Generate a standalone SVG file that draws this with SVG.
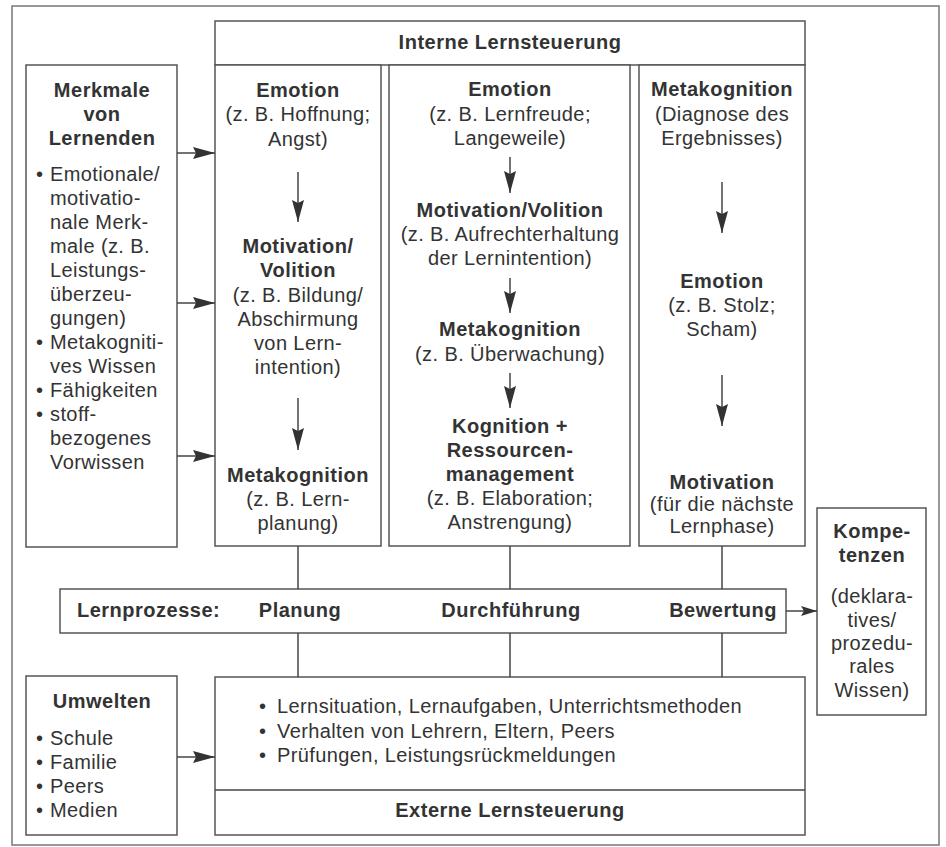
<svg xmlns="http://www.w3.org/2000/svg" width="946" height="847" viewBox="0 0 946 847">
<style>
.t{font-family:"Liberation Sans",Arial,Helvetica,sans-serif;font-size:20px;fill:#333;letter-spacing:0.4px}
.b{font-weight:bold;letter-spacing:0.5px}
.c{text-anchor:middle}
.box{fill:#fff;stroke:#555;stroke-width:1.5}
.ln{stroke:#444;stroke-width:1.5;fill:none}
.ar{stroke:#444;stroke-width:1.5;fill:none;marker-end:url(#ah)}
</style>
<defs>
<marker id="ah" viewBox="0 0 22 12" refX="22" refY="6" markerWidth="22" markerHeight="12" markerUnits="userSpaceOnUse" orient="auto">
<path d="M0,0 L22,6 L0,12 L3,6 Z" fill="#333"/>
</marker>
<marker id="ah2" viewBox="0 0 16 10" refX="16" refY="5" markerWidth="16" markerHeight="10" markerUnits="userSpaceOnUse" orient="auto">
<path d="M0,0 L16,5 L0,10 L3,5 Z" fill="#333"/>
</marker>
</defs>
<rect width="946" height="847" fill="#fff"/>
<rect x="12" y="6" width="927" height="839" fill="none" stroke="#777" stroke-width="1.5"/>

<g id="interne-header">
<rect class="box" x="215" y="21" width="590" height="44"/>
<text class="t b c" x="510" y="49">Interne Lernsteuerung</text>
</g>

<g id="merkmale">
<rect class="box" x="26" y="65" width="151" height="482"/>
<text class="t b c" x="102" y="97">Merkmale</text>
<text class="t b c" x="102" y="121">von</text>
<text class="t b c" x="102" y="145">Lernenden</text>
<text class="t" x="36" y="181">•</text><text class="t" x="50" y="181">Emotionale/</text>
<text class="t" x="50" y="205">motivatio-</text>
<text class="t" x="50" y="229">nale Merk-</text>
<text class="t" x="50" y="253">male (z. B.</text>
<text class="t" x="50" y="277">Leistungs-</text>
<text class="t" x="50" y="301">überzeu-</text>
<text class="t" x="50" y="325">gungen)</text>
<text class="t" x="36" y="349">•</text><text class="t" x="50" y="349">Metakogniti-</text>
<text class="t" x="50" y="373">ves Wissen</text>
<text class="t" x="36" y="397">•</text><text class="t" x="50" y="397">Fähigkeiten</text>
<text class="t" x="36" y="421">•</text><text class="t" x="50" y="421">stoff-</text>
<text class="t" x="50" y="445">bezogenes</text>
<text class="t" x="50" y="469">Vorwissen</text>
</g>

<g id="col-planung">
<rect class="box" x="215" y="65" width="166" height="481"/>
<text class="t b c" x="298" y="97">Emotion</text>
<text class="t c" x="298" y="121">(z. B. Hoffnung;</text>
<text class="t c" x="298" y="146">Angst)</text>
<text class="t b c" x="298" y="253">Motivation/</text>
<text class="t b c" x="298" y="277">Volition</text>
<text class="t c" x="298" y="302">(z. B. Bildung/</text>
<text class="t c" x="298" y="326">Abschirmung</text>
<text class="t c" x="298" y="350">von Lern-</text>
<text class="t c" x="298" y="374">intention)</text>
<text class="t b c" x="298" y="482">Metakognition</text>
<text class="t c" x="298" y="506">(z. B. Lern-</text>
<text class="t c" x="298" y="530">planung)</text>
</g>

<g id="col-durchfuehrung">
<rect class="box" x="389" y="65" width="241" height="481"/>
<text class="t b c" x="510" y="96">Emotion</text>
<text class="t c" x="510" y="121">(z. B. Lernfreude;</text>
<text class="t c" x="510" y="145">Langeweile)</text>
<text class="t b c" x="510" y="217">Motivation/Volition</text>
<text class="t c" x="510" y="241">(z. B. Aufrechterhaltung</text>
<text class="t c" x="510" y="265">der Lernintention)</text>
<text class="t b c" x="510" y="336">Metakognition</text>
<text class="t c" x="510" y="361">(z. B. Überwachung)</text>
<text class="t b c" x="510" y="433">Kognition +</text>
<text class="t b c" x="510" y="457">Ressourcen-</text>
<text class="t b c" x="510" y="481">management</text>
<text class="t c" x="510" y="505">(z. B. Elaboration;</text>
<text class="t c" x="510" y="529">Anstrengung)</text>
</g>

<g id="col-bewertung">
<rect class="box" x="639" y="65" width="166" height="481"/>
<text class="t b c" x="722" y="96">Metakognition</text>
<text class="t c" x="722" y="121">(Diagnose des</text>
<text class="t c" x="722" y="145">Ergebnisses)</text>
<text class="t b c" x="722" y="288">Emotion</text>
<text class="t c" x="722" y="312">(z. B. Stolz;</text>
<text class="t c" x="722" y="336">Scham)</text>
<text class="t b c" x="722" y="489">Motivation</text>
<text class="t c" x="722" y="511">(für die nächste</text>
<text class="t c" x="722" y="533">Lernphase)</text>
</g>

<g id="lernprozesse">
<rect class="box" x="60" y="589" width="726" height="44"/>
<text class="t b" x="77" y="617">Lernprozesse:</text>
<text class="t b c" x="300" y="617">Planung</text>
<text class="t b c" x="511" y="617">Durchführung</text>
<text class="t b" x="777" y="617" text-anchor="end">Bewertung</text>
</g>

<g id="kompetenzen">
<rect class="box" x="817" y="508" width="109" height="207"/>
<text class="t b c" x="872" y="538">Kompe-</text>
<text class="t b c" x="872" y="562">tenzen</text>
<text class="t c" x="872" y="603">(deklara-</text>
<text class="t c" x="872" y="627">tives/</text>
<text class="t c" x="872" y="650">prozedu-</text>
<text class="t c" x="872" y="673">rales</text>
<text class="t c" x="872" y="697">Wissen)</text>
</g>

<g id="umwelten">
<rect class="box" x="26" y="676" width="151" height="159"/>
<text class="t b c" x="102" y="708">Umwelten</text>
<text class="t" x="36" y="745">•</text><text class="t" x="50" y="745">Schule</text>
<text class="t" x="36" y="769">•</text><text class="t" x="50" y="769">Familie</text>
<text class="t" x="36" y="793">•</text><text class="t" x="50" y="793">Peers</text>
<text class="t" x="36" y="817">•</text><text class="t" x="50" y="817">Medien</text>
</g>

<g id="externe">
<rect class="box" x="215" y="677" width="590" height="158"/>
<line class="ln" x1="215" y1="790" x2="805" y2="790"/>
<text class="t" x="259" y="713">•</text><text class="t" x="277" y="713">Lernsituation, Lernaufgaben, Unterrichtsmethoden</text>
<text class="t" x="259" y="738">•</text><text class="t" x="277" y="738">Verhalten von Lehrern, Eltern, Peers</text>
<text class="t" x="259" y="762">•</text><text class="t" x="277" y="762">Prüfungen, Leistungsrückmeldungen</text>
<text class="t b c" x="510" y="817">Externe Lernsteuerung</text>
</g>

<g id="connectors">
<line class="ar" x1="177" y1="153" x2="215" y2="153"/>
<line class="ar" x1="177" y1="303" x2="215" y2="303"/>
<line class="ar" x1="177" y1="456" x2="215" y2="456"/>
<line class="ar" x1="177" y1="757" x2="215" y2="757"/>
<line class="ln" x1="786" y1="611" x2="817" y2="611" marker-end="url(#ah2)"/>
<line class="ar" x1="298" y1="172" x2="298" y2="222"/>
<line class="ar" x1="298" y1="398" x2="298" y2="450"/>
<line class="ar" x1="510" y1="157" x2="510" y2="193"/>
<line class="ar" x1="510" y1="278" x2="510" y2="313"/>
<line class="ar" x1="510" y1="373" x2="510" y2="408"/>
<line class="ar" x1="722" y1="182" x2="722" y2="233"/>
<line class="ar" x1="722" y1="375" x2="722" y2="426"/>
<line class="ln" x1="298" y1="546" x2="298" y2="589"/>
<line class="ln" x1="510" y1="546" x2="510" y2="589"/>
<line class="ln" x1="722" y1="546" x2="722" y2="589"/>
<line class="ln" x1="298" y1="633" x2="298" y2="677"/>
<line class="ln" x1="510" y1="633" x2="510" y2="677"/>
<line class="ln" x1="722" y1="633" x2="722" y2="677"/>
</g>
</svg>
